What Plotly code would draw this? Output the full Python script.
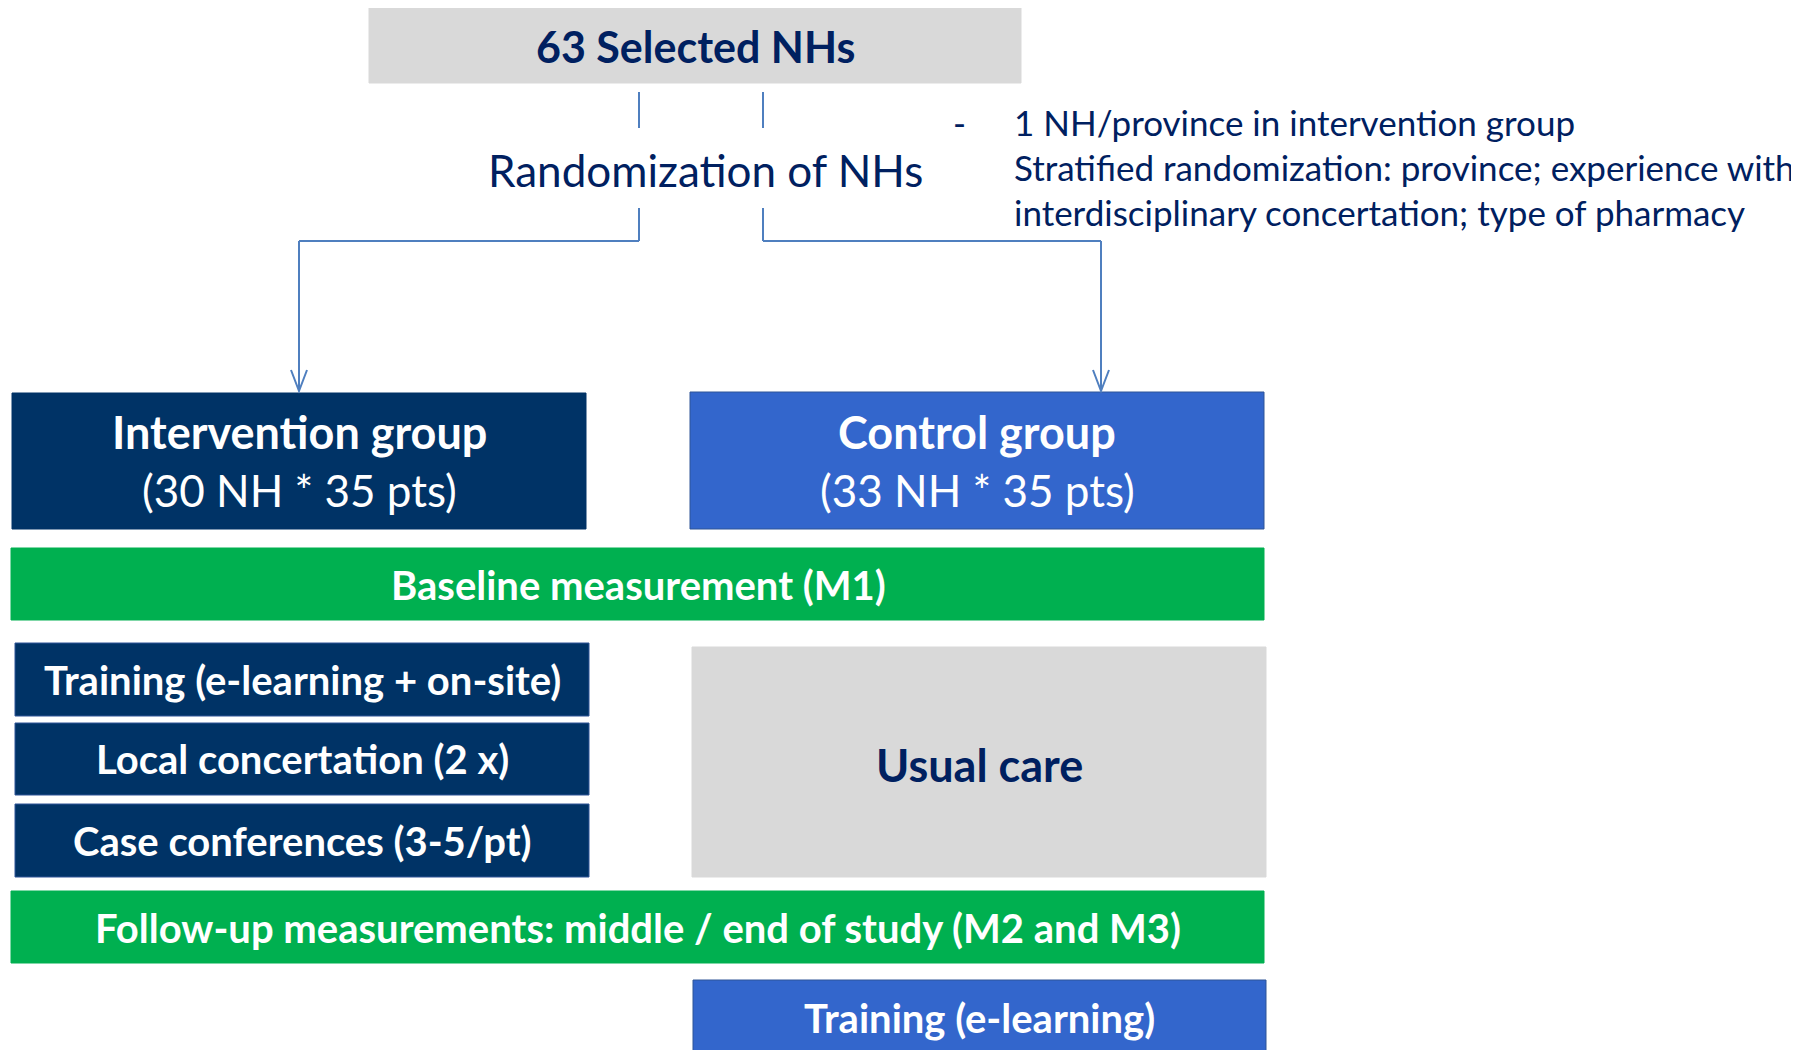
import plotly.graph_objects as go

# ---- content ----
top_label = "63 Selected NHs"
random_label = "Randomization of NHs"
notes_bullet = "-"
notes_lines = [
    "1 NH/province in intervention group",
    "Stratified randomization: province; experience with",
    "interdisciplinary concertation; type of pharmacy",
]
group_titles = ["Intervention group", "Control group"]
group_sizes = ["(30 NH * 35 pts)", "(33 NH * 35 pts)"]
baseline_label = "Baseline measurement (M1)"
intervention_steps = [
    "Training (e-learning + on-site)",
    "Local concertation (2 x)",
    "Case conferences (3-5/pt)",
]
control_step = "Usual care"
followup_label = "Follow-up measurements: middle / end of study (M2 and M3)"
control_after = "Training (e-learning)"

# ---- styles ----
NAVY = "#003366"
TEXT_NAVY = "#002060"
BLUE = "#3366CC"
GREEN = "#00B050"
GREY = "#D9D9D9"
LINE = "#4F7FBF"
FONT = "Lato"

W, H = 1799, 1050
OFF = 8  # page margin of the html body

fig = go.Figure()
shapes = []
annotations = []


def box(x0, y0, x1, y1, fill, border=None):
    shapes.append(dict(
        type="rect", x0=x0, y0=y0, x1=x1, y1=y1, fillcolor=fill,
        line=dict(color=border or fill, width=1), layer="below",
    ))


def text(x, y, s, size, color="white", bold=False, xanchor="center"):
    annotations.append(dict(
        x=x, y=y, text=f"<b>{s}</b>" if bold else s, showarrow=False,
        xanchor=xanchor, yanchor="middle",
        font=dict(family=FONT, size=size, color=color),
    ))


def seg(x0, y0, x1, y1):
    shapes.append(dict(type="line", x0=x0, y0=y0, x1=x1, y1=y1,
                       line=dict(color=LINE, width=2)))


# top box
box(369, 6, 1021, 83, GREY)
text(695, 46, top_label, 43, TEXT_NAVY, bold=True)

# connectors
seg(639, 92, 639, 128)
seg(763, 92, 763, 128)
text(705, 170, random_label, 44, TEXT_NAVY)
seg(639, 208, 639, 241)
seg(639, 241, 299, 241)
seg(299, 241, 299, 390)
seg(763, 208, 763, 241)
seg(763, 241, 1101, 241)
seg(1101, 241, 1101, 390)
for ax in (299, 1101):
    shapes.append(dict(type="path", path=f"M {ax-8},370 L {ax},391 L {ax+8},370",
                       line=dict(color=LINE, width=2)))

# notes
text(959, 122, notes_bullet, 35, TEXT_NAVY)
for i, line in enumerate(notes_lines):
    text(1012, 122 + i * 45, line, 35, TEXT_NAVY, xanchor="left")

# group boxes
box(12, 393, 586, 529, NAVY)
box(690, 392, 1264, 529, BLUE, border="#2F5597")
for cx, title, size in zip((299, 977), group_titles, group_sizes):
    text(cx, 432, title, 45, bold=True)
    text(cx, 490, size, 44)

# baseline
box(11, 548, 1264, 620, GREEN)
text(638, 585, baseline_label, 40, bold=True)

# intervention steps
step_rows = [(643, 716), (723, 795), (804, 877)]
for (y0, y1), label in zip(step_rows, intervention_steps):
    box(15, y0, 589, y1, NAVY, border="#2F5597")
    text(302, (y0 + y1) / 2, label, 40, bold=True)

# usual care
box(692, 647, 1266, 877, GREY)
text(979, 765, control_step, 45, TEXT_NAVY, bold=True)

# follow-up
box(11, 891, 1264, 963, GREEN)
text(638, 928, followup_label, 40, bold=True)

# control after
box(693, 980, 1266, 1070, BLUE, border="#2F5597")
text(979, 1018, control_after, 40, bold=True)

fig.update_layout(
    width=W, height=H,
    margin=dict(l=0, r=0, t=0, b=0),
    plot_bgcolor="white", paper_bgcolor="white",
    xaxis=dict(range=[OFF, W + OFF], visible=False, fixedrange=True),
    yaxis=dict(range=[H + OFF, OFF], visible=False, fixedrange=True),
    shapes=shapes, annotations=annotations,
    showlegend=False,
)

fig.write_html("out.html")
